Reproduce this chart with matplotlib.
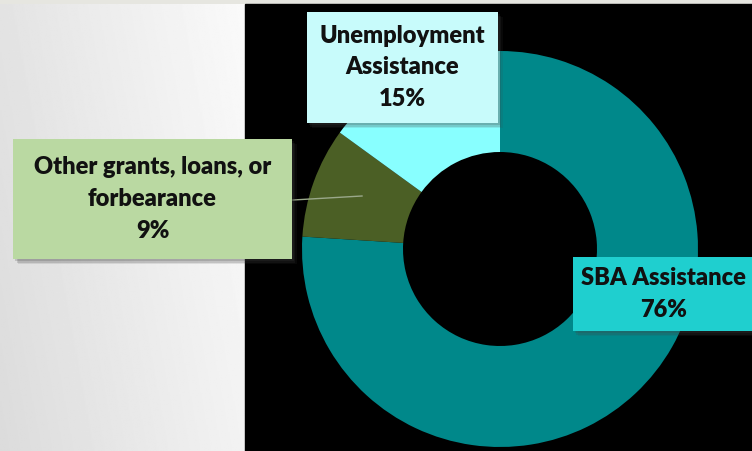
import numpy as np
import matplotlib
matplotlib.use("Agg")
import matplotlib.pyplot as plt
from matplotlib.patches import Rectangle

labels = ["SBA Assistance", "Other grants, loans, or\nforbearance", "Unemployment\nAssistance"]
values = [76, 9, 15]
slice_colors = ["#00888A", "#4B5F25", "#88FFFF"]
box_colors = ["#1FCFCF", "#BAD9A2", "#C8FBFB"]

W, H = 752, 452

fig = plt.figure(figsize=(W / 100, H / 100), dpi=100)
ax = fig.add_axes([0, 0, 1, 1])

# backgrounds
ax.add_patch(Rectangle((0, 0), W, H, color="#e6e6e0", zorder=0))
gx = np.linspace(0, 1, 200)
gy = np.linspace(0, 1, 200)
gxx, gyy = np.meshgrid(gx, gy)
grad = 0.86 + 0.09 * gxx + 0.03 * gyy
ax.imshow(grad, cmap="gray", vmin=0, vmax=1, extent=(0, 245, 0, H - 5),
          origin="lower", aspect="auto", zorder=1)
ax.add_patch(Rectangle((245, 0), W - 245, H - 5, color="black", zorder=1))

# donut
cx, cy = 500, H - 250
wedges, _ = ax.pie(values, colors=slice_colors, startangle=90, counterclock=False,
                   radius=198, center=(cx, cy), frame=True,
                   wedgeprops=dict(width=101, linewidth=0))
for w in wedges:
    w.set_zorder(2)
ax.set_xlim(0, W)
ax.set_ylim(0, H)
ax.set_aspect("equal")
ax.axis("off")

# leader line for the small slice
ax.plot([293, 362], [H - 201, H - 197], color="#9aa88a", lw=1, zorder=3)

# label boxes (x0, y0_top, x1, y1_bottom) in image pixels
boxes = [(573, 258, 760, 332), (13, 140, 292, 260), (307, 13, 498, 124)]
pcts = [f"{v}%" for v in values]
for (x0, y0, x1, y1), lab, pct, bc in zip(boxes, labels, pcts, box_colors):
    for k, a in [(5, 0.12), (3.5, 0.18), (2, 0.2)]:
        ax.add_patch(Rectangle((x0 + k, H - y1 - k), x1 - x0, y1 - y0,
                               color="#444444", alpha=a, lw=0, zorder=4))
    ax.add_patch(Rectangle((x0, H - y1), x1 - x0, y1 - y0, color=bc, lw=0, zorder=5))
    tx = (x0 + min(x1, W)) / 2 + (1 if x1 > W else 0)
    ax.text(tx, H - (y0 + y1) / 2 + 1, lab + "\n" + pct, ha="center", va="center",
            fontsize=17, fontweight="heavy", family="Lato", color="#111111",
            linespacing=1.55, zorder=6)

fig.savefig("out.png", dpi=100)
